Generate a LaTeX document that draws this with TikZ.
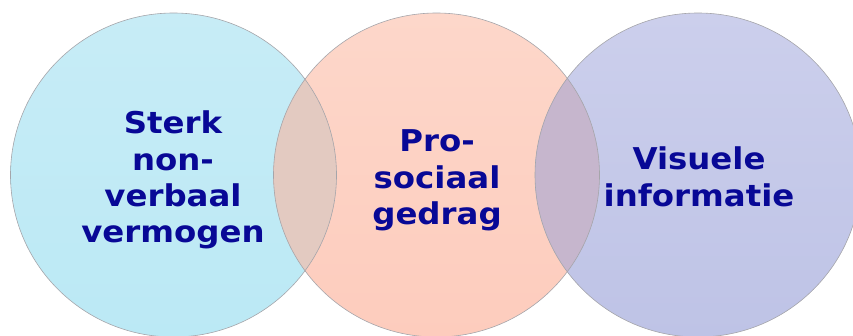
\documentclass[tikz,border=0pt]{standalone}
\usepackage{fontspec}
\usetikzlibrary{shapes.geometric}
\newfontfamily\lblfont{DejaVu Sans}[FakeStretch=1.08]
\definecolor{txtblue}{RGB}{8,8,150}
\definecolor{cyanTop}{RGB}{199,236,246}
\definecolor{cyanBot}{RGB}{187,233,245}
\definecolor{salTop}{RGB}{253,215,202}
\definecolor{salBot}{RGB}{253,204,189}
\definecolor{lavTop}{RGB}{204,207,236}
\definecolor{lavBot}{RGB}{190,195,230}
\definecolor{ovLM}{RGB}{227,202,193}
\definecolor{ovMR}{RGB}{198,182,205}
\definecolor{edge}{RGB}{165,165,170}
\begin{document}
\begin{tikzpicture}[x=1pt,y=-1pt,
  blob/.style={ellipse, minimum width=326pt, minimum height=324pt, inner sep=0pt},
  rim/.style={draw=edge, line width=0.6pt},
  lbl/.style={align=center, inner sep=0pt, text=txtblue,
    font=\lblfont\bfseries\fontsize{30}{36.4}\selectfont}]
\useasboundingbox (0,0) rectangle (853,335);
% circles
\node[blob, top color=cyanTop, bottom color=cyanBot] (cL) at (173.5,175) {};
\node[blob, top color=salTop, bottom color=salBot] (cM) at (436.5,175) {};
\node[blob, top color=lavTop, bottom color=lavBot] (cR) at (698,175) {};
% overlaps
\begin{scope}
  \clip (cL.center) ellipse [x radius=163pt, y radius=162pt];
  \fill[ovLM] (cM.center) ellipse [x radius=163pt, y radius=162pt];
\end{scope}
\begin{scope}
  \clip (cM.center) ellipse [x radius=163pt, y radius=162pt];
  \fill[ovMR] (cR.center) ellipse [x radius=163pt, y radius=162pt];
\end{scope}
% outlines
\draw[rim] (cL.center) ellipse [x radius=163pt, y radius=162pt];
\draw[rim] (cM.center) ellipse [x radius=163pt, y radius=162pt];
\draw[rim] (cR.center) ellipse [x radius=163pt, y radius=162pt];
% labels
\node[lbl] (tL) at (173,180.2) {Sterk\\non-\\verbaal\\vermogen};
\node[lbl] (tM) at (437,180.5) {Pro-\\sociaal\\gedrag};
\node[lbl] (tR) at (699,177) {Visuele\\informatie};
\end{tikzpicture}
\end{document}
